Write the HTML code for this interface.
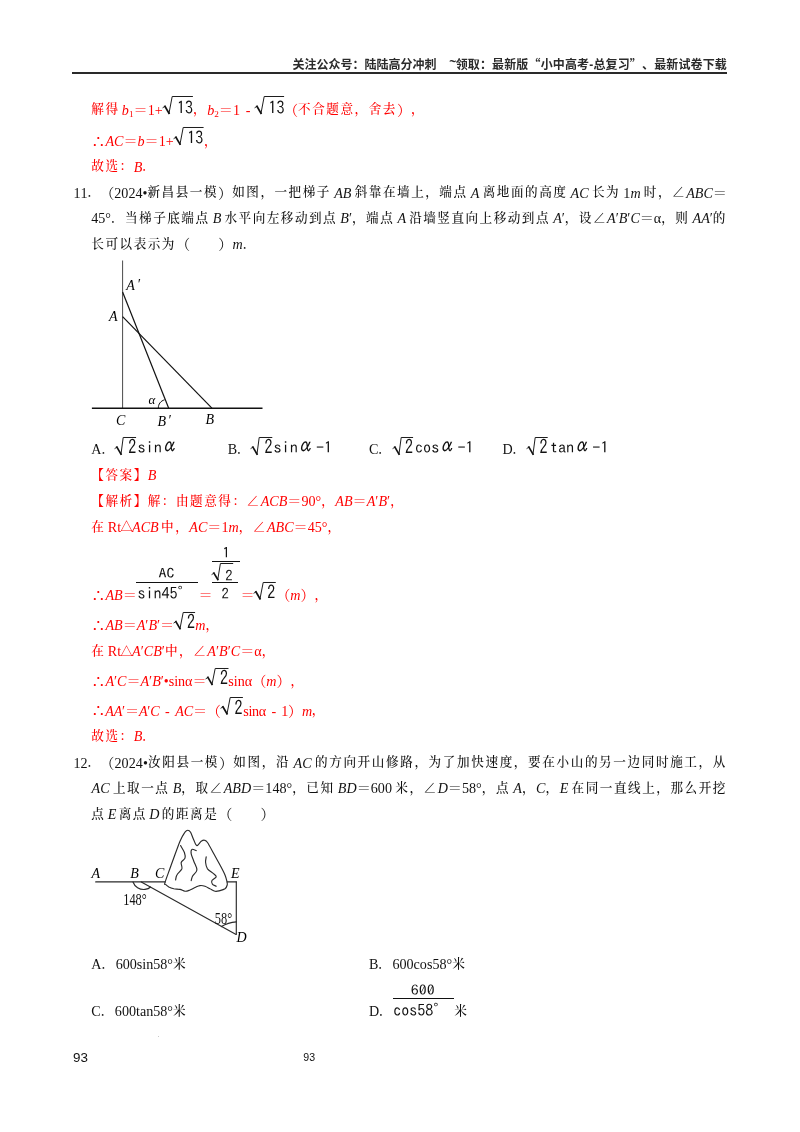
<!DOCTYPE html>
<html lang="zh-CN">
<head>
<meta charset="utf-8">
<title>解直角三角形 练习 93</title>
<style>
html,body{margin:0;padding:0;background:#fff}
.page{position:relative;width:800px;height:1132px;overflow:hidden;background:#fff;color:#111;
  font-family:"Liberation Serif","Noto Serif CJK SC",serif;font-size:14.12px}
.t{position:absolute;white-space:nowrap;line-height:20px;text-spacing-trim:space-all;font-kerning:none}
.t i{font-style:italic}
.t sub{vertical-align:baseline;line-height:0}
.b{font-family:"Liberation Serif","Noto Serif CJK SC",serif;font-size:12.6px;--ls:0px;letter-spacing:calc(1.52px + var(--ls));word-spacing:-1.2px;font-weight:500}
.b .l,.b i{font-weight:400;font-size:14.12px;letter-spacing:var(--ls);position:relative;top:1.3px}
.b sub{font-weight:400;font-size:9.2px;letter-spacing:var(--ls);position:relative;top:3.5px}
.tri{display:inline-block;width:11px;text-indent:-0.6px;overflow:visible;font-size:12px;letter-spacing:0;position:relative;top:0.8px}
.mn{word-spacing:2.3px}
.th{font-weight:700;font-size:14.12px;letter-spacing:var(--ls);position:relative;top:1px}
.al{display:inline-block;margin-right:1.8px;transform:translateY(-2.6px) scaleY(1.25)}
.j{word-spacing:-0.3px}
.r{color:#f5222d}
.hd{font-family:"Liberation Sans","Noto Sans CJK SC",sans-serif;font-weight:700;font-size:12px;color:#2b2b2b}
.hd .tl{position:relative;top:-3.6px;left:0.8px}
.hd .q{font-family:"Noto Sans CJK SC",sans-serif}
.m{font-family:"IPAGothic","Liberation Mono",monospace;font-size:16.3px;color:#111}
.pn{font-family:"Liberation Sans","Noto Sans CJK SC",sans-serif;color:#111}
.fl{font-family:"Liberation Serif","Noto Serif CJK SC",serif;font-style:italic;font-size:14px;color:#111}
.hl{position:absolute}
.rad{position:absolute;overflow:visible}
.rad path{fill:none;stroke:#111;stroke-linecap:square;stroke-linejoin:miter}
.fig{position:absolute;overflow:visible}
</style>
</head>
<body>
<div class="page">
<div class="t hd" style="left:292.60px;top:55.41px">关注公众号：陆陆高分冲刺</div>
<div class="t hd" style="left:448.50px;top:54.41px;letter-spacing:0.143px"><span class="tl">~</span>领取：最新版<span class="q">“</span>小中高考-总复习<span class="q">”</span>、最新试卷下载</div>
<div class="t b" style="left:91.30px;top:98.41px;color:#ff0000">解得<span class="l"> </span><i>b</i><sub>1</sub><span class="l">＝1+</span></div>
<div class="t m" style="left:177.10px;top:98.00px;font-size:16px;transform:scaleY(1.1);transform-origin:0 16.00px">13</div>
<div class="t b" style="left:193.00px;top:98.41px;color:#ff0000">，<i>b</i><sub>2</sub><span class="l">＝1</span><span class="mn"><span class="l"> - </span></span></div>
<div class="t m" style="left:268.40px;top:98.00px;font-size:16px;transform:scaleY(1.1);transform-origin:0 16.00px">13</div>
<div class="t b" style="left:284.00px;top:98.41px;color:#ff0000"><span class="l">（</span>不合题意，舍去<span class="l">）</span>，</div>
<div class="t b" style="left:91.30px;top:129.70px;color:#ff0000"><span class="th">∴</span><i>AC</i><span class="l">＝</span><i>b</i><span class="l">＝1+</span></div>
<div class="t m" style="left:187.30px;top:128.30px;font-size:16px;transform:scaleY(1.1);transform-origin:0 16.00px">13</div>
<div class="t b" style="left:204.00px;top:130.70px;color:#ff0000">，</div>
<div class="t b" style="left:91.30px;top:155.41px;color:#ff0000">故选：<i>B</i>．</div>
<div class="t b" style="left:73.40px;top:181.41px"><span class="l">11</span>．</div>
<div class="t b j" style="left:100.20px;top:181.41px"><span class="l">（2024•</span>新昌县一模<span class="l">）</span>如图，一把梯子<span class="l"> </span><i>AB</i><span class="l"> </span>斜靠在墙上，端点<span class="l"> </span><i>A</i><span class="l"> </span>离地面的高度<span class="l"> </span><i>AC</i><span class="l"> </span>长为<span class="l"> 1</span><i>m</i><span class="l"> </span>时，∠<i>ABC</i><span class="l">＝</span></div>
<div class="t b j" style="left:91.30px;top:207.20px;--ls:-0.036px"><span class="l">45°</span>．当梯子底端点<span class="l"> </span><i>B</i><span class="l"> </span>水平向左移动到点<span class="l"> </span><i>B</i><span class="l">′</span>，端点<span class="l"> </span><i>A</i><span class="l"> </span>沿墙竖直向上移动到点<span class="l"> </span><i>A</i><span class="l">′</span>，设∠<i>A</i><span class="l">′</span><i>B</i><span class="l">′</span><i>C</i><span class="l">＝α</span>，则<span class="l"> </span><i>AA</i><span class="l">′</span>的</div>
<div class="t b" style="left:91.30px;top:233.20px">长可以表示为<span class="l">（</span>　　<span class="l">）</span><i>m</i>．</div>
<div class="t b" style="left:91.30px;top:438.00px"><span class="l">A</span>．</div>
<div class="t m" style="left:128.20px;top:438.11px;font-size:16px;transform:scaleY(1.24);transform-origin:0 15.99px">2</div>
<div class="t m" style="left:137.40px;top:437.10px;font-size:16.3px;transform:scaleY(0.96);transform-origin:0 16.00px">sin<span class="al">α</span></div>
<div class="t b" style="left:227.70px;top:438.00px"><span class="l">B</span>．</div>
<div class="t m" style="left:264.40px;top:438.11px;font-size:16px;transform:scaleY(1.24);transform-origin:0 15.99px">2</div>
<div class="t m" style="left:273.40px;top:437.10px;font-size:16.3px;transform:scaleY(0.96);transform-origin:0 16.00px">sin<span class="al">α</span>-1</div>
<div class="t b" style="left:368.90px;top:438.00px"><span class="l">C</span>．</div>
<div class="t m" style="left:405.00px;top:438.11px;font-size:16px;transform:scaleY(1.24);transform-origin:0 15.99px">2</div>
<div class="t m" style="left:414.90px;top:437.10px;font-size:16.3px;transform:scaleY(0.96);transform-origin:0 16.00px">cos<span class="al">α</span>-1</div>
<div class="t b" style="left:502.40px;top:438.00px"><span class="l">D</span>．</div>
<div class="t m" style="left:539.60px;top:438.11px;font-size:16px;transform:scaleY(1.24);transform-origin:0 15.99px">2</div>
<div class="t m" style="left:549.80px;top:437.10px;font-size:16.3px;transform:scaleY(0.96);transform-origin:0 16.00px">tan<span class="al">α</span>-1</div>
<div class="t b" style="left:91.30px;top:463.91px;color:#ff0000">【答案】<i>B</i></div>
<div class="t b" style="left:91.30px;top:489.91px;color:#ff0000">【解析】解：由题意得：∠<i>ACB</i><span class="l">＝90°</span>，<i>AB</i><span class="l">＝</span><i>A</i><span class="l">′</span><i>B</i><span class="l">′</span>，</div>
<div class="t b" style="left:91.30px;top:515.70px;color:#ff0000">在<span class="l"> Rt</span><span class="tri">△</span><i>ACB</i><span class="l"> </span>中，<i>AC</i><span class="l">＝1</span><i>m</i>，∠<i>ABC</i><span class="l">＝45°</span>，</div>
<div class="t b" style="left:91.30px;top:583.80px;color:#ff0000"><span class="th">∴</span><i>AB</i><span class="l">＝</span></div>
<div class="t m" style="left:158.60px;top:562.31px;font-size:16px;transform:scaleY(0.84);transform-origin:0 15.99px">AC</div>
<div class="t m" style="left:137.40px;top:583.11px;font-size:16px">sin45°</div>
<div class="t b" style="left:198.40px;top:583.91px;color:#ff0000"><span class="l">＝</span></div>
<div class="t m" style="left:222.60px;top:543.20px;font-size:14.7px">1</div>
<div class="t m" style="left:225.30px;top:565.70px;font-size:14.7px">2</div>
<div class="t m" style="left:221.60px;top:584.30px;font-size:14.7px">2</div>
<div class="t b" style="left:240.60px;top:583.91px;color:#ff0000"><span class="l">＝</span></div>
<div class="t m" style="left:267.30px;top:583.40px;font-size:16px;transform:scaleY(1.17);transform-origin:0 16.00px">2</div>
<div class="t b" style="left:276.20px;top:583.80px;color:#ff0000"><span class="l">（</span><i>m</i><span class="l">）</span>，</div>
<div class="t b" style="left:91.30px;top:614.11px;color:#ff0000;--ls:-0.013px"><span class="th">∴</span><i>AB</i><span class="l">＝</span><i>A</i><span class="l">′</span><i>B</i><span class="l">′＝</span></div>
<div class="t m" style="left:187.10px;top:613.11px;font-size:16px;transform:scaleY(1.24);transform-origin:0 15.99px">2</div>
<div class="t b" style="left:195.20px;top:614.11px;color:#ff0000"><i>m</i>，</div>
<div class="t b" style="left:91.30px;top:640.00px;color:#ff0000">在<span class="l"> Rt</span><span class="tri">△</span><i>A</i><span class="l">′</span><i>CB</i><span class="l">′</span>中，∠<i>A</i><span class="l">′</span><i>B</i><span class="l">′</span><i>C</i><span class="l">＝α</span>，</div>
<div class="t b" style="left:91.30px;top:669.50px;color:#ff0000;--ls:-0.039px"><span class="th">∴</span><i>A</i><span class="l">′</span><i>C</i><span class="l">＝</span><i>A</i><span class="l">′</span><i>B</i><span class="l">′•sinα＝</span></div>
<div class="t m" style="left:220.00px;top:668.61px;font-size:16px;transform:scaleY(1.24);transform-origin:0 15.99px">2</div>
<div class="t b" style="left:228.30px;top:669.50px;color:#ff0000"><span class="l">sinα（</span><i>m</i><span class="l">）</span>，</div>
<div class="t b" style="left:91.30px;top:699.30px;color:#ff0000;--ls:-0.193px"><span class="th">∴</span><i>AA</i><span class="l">′＝</span><i>A</i><span class="l">′</span><i>C</i><span class="mn"><span class="l"> - </span></span><i>AC</i><span class="l">＝（</span></div>
<div class="t m" style="left:234.40px;top:698.50px;font-size:16px;transform:scaleY(1.24);transform-origin:0 16.00px">2</div>
<div class="t b" style="left:243.30px;top:699.30px;color:#ff0000;--ls:-0.311px"><span class="l">sinα</span><span class="mn"><span class="l"> - </span></span><span class="l">1）</span><i>m</i>，</div>
<div class="t b" style="left:91.30px;top:725.20px;color:#ff0000">故选：<i>B</i>．</div>
<div class="t b" style="left:73.40px;top:751.41px"><span class="l">12</span>．</div>
<div class="t b j" style="left:100.20px;top:751.41px;--ls:0.093px"><span class="l">（2024•</span>汝阳县一模<span class="l">）</span>如图，沿<span class="l"> </span><i>AC</i><span class="l"> </span>的方向开山修路，为了加快速度，要在小山的另一边同时施工，从</div>
<div class="t b j" style="left:91.60px;top:777.00px;--ls:0.015px"><i>AC</i><span class="l"> </span>上取一点<span class="l"> </span><i>B</i>，取∠<i>ABD</i><span class="l">＝148°</span>，已知<span class="l"> </span><i>BD</i><span class="l">＝600 </span>米，∠<i>D</i><span class="l">＝58°</span>，点<span class="l"> </span><i>A</i>，<i>C</i>，<i>E</i><span class="l"> </span>在同一直线上，那么开挖</div>
<div class="t b" style="left:91.30px;top:802.70px">点<span class="l"> </span><i>E</i><span class="l"> </span>离点<span class="l"> </span><i>D</i><span class="l"> </span>的距离是<span class="l">（</span>　　<span class="l">）</span></div>
<div class="t b" style="left:91.30px;top:952.61px"><span class="l">A</span>．<span class="l">600sin58°</span>米</div>
<div class="t b" style="left:368.90px;top:952.61px"><span class="l">B</span>．<span class="l">600cos58°</span>米</div>
<div class="t b" style="left:91.30px;top:1000.00px"><span class="l">C</span>．<span class="l">600tan58°</span>米</div>
<div class="t b" style="left:368.90px;top:1000.00px"><span class="l">D</span>．</div>
<div class="t m" style="left:410.80px;top:978.51px;font-size:16px;transform:scaleY(0.86);transform-origin:0 15.99px">600</div>
<div class="t m" style="left:393.20px;top:999.70px;font-size:16px">cos58°</div>
<div class="t b" style="left:454.20px;top:1001.00px">米</div>
<div class="t pn" style="left:73.00px;top:1048.11px;font-size:13.4px">93</div>
<div class="t pn" style="left:303.30px;top:1046.61px;font-size:10.6px">93</div>
<div class="hl" style="left:72.00px;top:71.95px;width:655.30px;height:1.80px;background:#2a2a2a"></div>
<svg class="rad" style="left:162.00px;top:95.30px" width="31.40" height="19.80" viewBox="0 0 31.40 19.80"><path d="M1.00 12.60 L2.90 11.30" stroke-width="0.9"/><path d="M2.90 11.30 L7.00 18.30" stroke-width="1.7"/><path d="M7.00 18.30 L10.20 1.50 L30.40 1.50" stroke-width="0.95"/></svg>
<svg class="rad" style="left:254.00px;top:95.30px" width="30.60" height="19.80" viewBox="0 0 30.60 19.80"><path d="M1.00 12.60 L2.90 11.30" stroke-width="0.9"/><path d="M2.90 11.30 L7.00 18.30" stroke-width="1.7"/><path d="M7.00 18.30 L10.20 1.50 L29.60 1.50" stroke-width="0.95"/></svg>
<svg class="rad" style="left:172.50px;top:126.00px" width="31.10" height="19.70" viewBox="0 0 31.10 19.70"><path d="M1.00 12.50 L2.90 11.20" stroke-width="0.9"/><path d="M2.90 11.20 L7.00 18.20" stroke-width="1.7"/><path d="M7.00 18.20 L10.20 1.50 L30.10 1.50" stroke-width="0.95"/></svg>
<svg class="rad" style="left:114.00px;top:435.50px" width="22.60" height="19.60" viewBox="0 0 22.60 19.60"><path d="M1.00 12.40 L2.90 11.10" stroke-width="0.9"/><path d="M2.90 11.10 L7.00 18.10" stroke-width="1.7"/><path d="M7.00 18.10 L9.20 1.50 L21.60 1.50" stroke-width="0.95"/></svg>
<svg class="rad" style="left:250.00px;top:435.50px" width="22.80" height="19.60" viewBox="0 0 22.80 19.60"><path d="M1.00 12.40 L2.90 11.10" stroke-width="0.9"/><path d="M2.90 11.10 L7.00 18.10" stroke-width="1.7"/><path d="M7.00 18.10 L9.20 1.50 L21.80 1.50" stroke-width="0.95"/></svg>
<svg class="rad" style="left:391.80px;top:435.50px" width="21.60" height="19.60" viewBox="0 0 21.60 19.60"><path d="M1.00 12.40 L2.90 11.10" stroke-width="0.9"/><path d="M2.90 11.10 L7.00 18.10" stroke-width="1.7"/><path d="M7.00 18.10 L9.20 1.50 L20.60 1.50" stroke-width="0.95"/></svg>
<svg class="rad" style="left:525.80px;top:435.50px" width="22.20" height="19.60" viewBox="0 0 22.20 19.60"><path d="M1.00 12.40 L2.90 11.10" stroke-width="0.9"/><path d="M2.90 11.10 L7.00 18.10" stroke-width="1.7"/><path d="M7.00 18.10 L9.20 1.50 L21.20 1.50" stroke-width="0.95"/></svg>
<div class="hl" style="left:136.00px;top:581.90px;width:62.00px;height:1.00px;background:#111"></div>
<div class="hl" style="left:211.90px;top:560.80px;width:28.40px;height:1.00px;background:#111"></div>
<svg class="rad" style="left:210.90px;top:561.90px" width="22.70" height="19.00" viewBox="0 0 22.70 19.00"><path d="M1.00 12.40 L2.90 11.10" stroke-width="0.9"/><path d="M2.90 11.10 L6.80 17.50" stroke-width="1.7"/><path d="M6.80 17.50 L9.40 1.50 L21.70 1.50" stroke-width="0.95"/></svg>
<div class="hl" style="left:211.90px;top:581.90px;width:26.60px;height:1.00px;background:#111"></div>
<svg class="rad" style="left:252.80px;top:581.00px" width="23.30" height="19.30" viewBox="0 0 23.30 19.30"><path d="M1.00 12.10 L2.90 10.80" stroke-width="0.9"/><path d="M2.90 10.80 L7.00 17.80" stroke-width="1.7"/><path d="M7.00 17.80 L10.20 1.50 L22.30 1.50" stroke-width="0.95"/></svg>
<svg class="rad" style="left:173.00px;top:611.00px" width="22.60" height="19.10" viewBox="0 0 22.60 19.10"><path d="M1.00 11.90 L2.90 10.60" stroke-width="0.9"/><path d="M2.90 10.60 L7.00 17.60" stroke-width="1.7"/><path d="M7.00 17.60 L10.20 1.50 L21.60 1.50" stroke-width="0.95"/></svg>
<svg class="rad" style="left:204.60px;top:666.60px" width="24.00" height="18.90" viewBox="0 0 24.00 18.90"><path d="M1.00 11.70 L2.90 10.40" stroke-width="0.9"/><path d="M2.90 10.40 L7.00 17.40" stroke-width="1.7"/><path d="M7.00 17.40 L10.20 1.50 L23.00 1.50" stroke-width="0.95"/></svg>
<svg class="rad" style="left:219.60px;top:696.10px" width="23.40" height="19.30" viewBox="0 0 23.40 19.30"><path d="M1.00 12.10 L2.90 10.80" stroke-width="0.9"/><path d="M2.90 10.80 L7.00 17.80" stroke-width="1.7"/><path d="M7.00 17.80 L10.20 1.50 L22.40 1.50" stroke-width="0.95"/></svg>
<div class="hl" style="left:392.50px;top:997.70px;width:61.10px;height:1.00px;background:#111"></div>
<svg class="fig" style="left:80px;top:255px" width="200" height="180" viewBox="80 255 200 180">
<g fill="none" stroke="#111" stroke-width="1">
<line x1="122.6" y1="260.5" x2="122.6" y2="408.2" stroke="#4a4a4a"/>
<line x1="91.9" y1="408.2" x2="262.5" y2="408.2" stroke-width="1.5"/>
<line x1="122.6" y1="292" x2="168.7" y2="408.2" stroke-width="1.2"/>
<line x1="122.6" y1="316.7" x2="211.9" y2="408.2" stroke-width="1.2"/>
<path d="M158.3 408.2 C158.3 404 160.6 401 164.6 399.8"/>
</g>
<g class="fl">
<text x="126.3" y="289.6">A<tspan dx="2.2" dy="-1">′</tspan></text>
<text x="108.9" y="320.5">A</text>
<text x="116" y="424.7">C</text>
<text x="157.6" y="426">B<tspan dx="1.6" dy="-1">′</tspan></text>
<text x="205.6" y="424.4">B</text>
<text x="148.4" y="403.6" font-size="13">α</text>
</g>
</svg>
<svg class="fig" style="left:85px;top:825px" width="175" height="125" viewBox="85 825 175 125">
<g fill="none" stroke="#2a2a2a" stroke-width="1.15" stroke-linecap="round" stroke-linejoin="round">
<line x1="95.7" y1="881.9" x2="165" y2="881.9"/>
<line x1="227.2" y1="881.9" x2="236.3" y2="881.9"/>
<line x1="236.3" y1="881.9" x2="236.3" y2="934.2"/>
<line x1="141.3" y1="881.9" x2="236.1" y2="934.4"/>
<path d="M165.0 882.5 C165.9 879.3 168.8 871.9 171.2 865.0 C173.8 858.1 177.7 846.7 180.0 841.2 C182.3 835.8 183.7 834.1 185.0 832.2 C186.3 830.4 186.8 830.2 187.8 830.2 C188.7 830.2 189.6 830.6 190.6 832.2 C191.6 833.9 192.7 837.8 193.8 840.0 C194.8 842.2 195.6 845.4 196.9 845.6 C198.1 845.8 200.0 842.1 201.2 841.2 C202.5 840.4 203.3 840.0 204.4 840.2 C205.4 840.5 205.9 840.2 207.5 842.5 C209.1 844.8 211.7 850.0 213.8 853.8 C215.8 857.5 218.1 861.5 220.0 865.0 C221.9 868.5 223.9 872.3 225.0 875.0 C226.1 877.7 226.5 879.6 226.9 881.2 C227.2 882.9 227.6 883.8 227.2 885.0 C226.9 886.2 226.2 887.8 225.0 888.8 C223.8 889.7 221.7 890.2 220.0 890.6 C218.3 891.0 216.7 891.6 215.0 891.2 C213.3 890.9 211.7 889.6 210.0 888.8 C208.3 887.9 206.7 886.8 205.0 886.2 C203.3 885.7 201.7 885.4 200.0 885.6 C198.3 885.8 196.7 886.8 195.0 887.5 C193.3 888.2 191.7 889.4 190.0 890.0 C188.3 890.6 186.7 891.4 185.0 891.2 C183.3 891.1 181.9 889.8 180.0 889.4 C178.1 889.0 175.6 889.2 173.8 888.8 C171.9 888.3 170.1 887.6 168.8 886.9 C167.4 886.1 166.2 885.1 165.6 884.4 C165.0 883.6 164.1 885.7 165.0 882.5Z"/>
<path d="M180.6 845.6 C181.2 846.8 183.6 850.4 184.4 852.5 C185.1 854.6 185.5 856.5 185.0 858.1 C184.5 859.8 181.8 860.7 181.2 862.5 C180.7 864.3 182.6 866.7 181.9 868.8 C181.1 870.8 177.9 873.1 176.9 875.0 C175.8 876.9 175.8 879.2 175.6 880.0"/>
<path d="M196.2 850.6 C195.5 850.4 192.7 848.9 191.9 849.4 C191.0 849.9 190.9 851.8 191.2 853.8 C191.6 855.7 192.8 858.5 193.8 861.2 C194.7 864.0 197.1 867.5 196.9 870.0 C196.7 872.5 193.4 874.5 192.5 876.2 C191.6 878.0 191.5 879.9 191.2 880.6"/>
<path d="M206.2 856.9 C206.1 857.8 205.4 860.5 205.6 862.5 C205.8 864.5 206.1 866.9 207.5 868.8 C208.9 870.6 212.3 872.4 213.8 873.8 C215.2 875.1 216.6 875.7 216.2 876.9 C215.9 878.0 212.5 879.4 211.9 880.6 C211.2 881.9 211.8 883.4 212.5 884.4 C213.2 885.3 215.6 885.9 216.2 886.2"/>
<path d="M133 882 C134.6 886.6 139.6 890 145 889.4 C147.5 889.1 149.4 888.2 150.5 887"/>
<path d="M221.4 926.6 Q228 922.4 236.3 921.9"/>
</g>
<g class="fl" font-size="14.4">
<text x="91.4" y="878.2">A</text>
<text x="130.3" y="878.3">B</text>
<text x="155" y="877.6">C</text>
<text x="231" y="878">E</text>
<text x="236.4" y="941.8">D</text>
</g>
<g font-family="'Liberation Serif','Noto Serif CJK SC',serif" font-size="12.4" fill="#111">
<text transform="translate(123.2 904.6) scale(1 1.28)">148°</text>
<text transform="translate(214.8 923.8) scale(1 1.28)">58°</text>
</g>
</svg>
<div class="hl speck" style="left:158px;top:1035.5px;width:1.2px;height:1.2px;background:#c8c8c8"></div>
</div>
</body>
</html>
